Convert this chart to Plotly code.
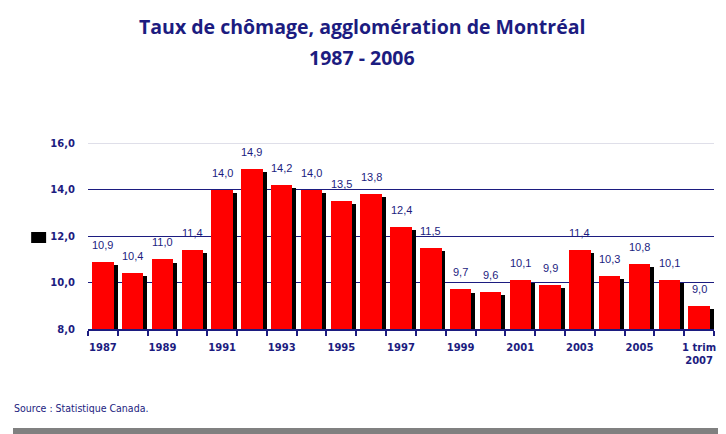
import plotly.graph_objects as go

categories = ["1987", "1988", "1989", "1990", "1991", "1992", "1993", "1994", "1995", "1996",
              "1997", "1998", "1999", "2000", "2001", "2002", "2003", "2004", "2005", "2006",
              "1 trim<br>2007"]
rates = [10.9, 10.4, 11.0, 11.4, 14.0, 14.9, 14.2, 14.0, 13.5, 13.8,
         12.4, 11.5, 9.7, 9.6, 10.1, 9.9, 11.4, 10.3, 10.8, 10.1, 9.0]
label_every = 2
y_ticks = [8, 10, 12, 14, 16]

NAVY = "#1c1c80"
idx = list(range(len(categories)))
shadow_drop = 0.14
bw = 0.72

fig = go.Figure()
fig.add_trace(go.Bar(x=idx, y=[v - shadow_drop for v in rates], width=bw, offset=-bw / 2 + 0.13,
                     marker=dict(color="black", line=dict(width=0)), hoverinfo="skip"))
fig.add_trace(go.Bar(x=idx, y=rates, width=bw, offset=-bw / 2,
                     marker=dict(color="#ff0000", line=dict(width=0))))

for i, v in zip(idx, rates):
    fig.add_annotation(x=i, y=v, text=f"{v:.1f}".replace(".", ","), showarrow=False,
                       yanchor="bottom", yshift=9,
                       font=dict(family="Liberation Sans", size=11, color=NAVY))

tickvals = [i for i in idx if i % label_every == 0]
ticktext = [categories[i] for i in tickvals]

# page body has an 8px margin; figure is sized to fit the remaining window
fig.update_layout(
    width=718, height=426,
    margin=dict(l=80, r=10, t=135, b=105),
    paper_bgcolor="white", plot_bgcolor="white",
    barmode="overlay", showlegend=False, bargap=0,
    separators=", ",
    xaxis=dict(range=[-0.5, len(categories) - 0.5], tickmode="array", tickvals=tickvals,
               ticktext=ticktext, ticks="outside", ticklen=8, tickcolor="rgba(0,0,0,0)",
               showgrid=False, zeroline=False, showline=True, linecolor=NAVY, linewidth=1.5,
               tickfont=dict(family="DejaVu Sans", size=10, color=NAVY, weight="bold"),
               minor=dict(tickmode="array", tickvals=[i - 0.5 for i in idx] + [len(idx) - 0.5],
                          ticks="outside", ticklen=5, tickcolor=NAVY, tickwidth=1.5, showgrid=False)),
    yaxis=dict(range=[8, 16], tickmode="array", tickvals=y_ticks, tickformat=".1f",
               showgrid=True, gridcolor=NAVY, gridwidth=1, zeroline=False, showline=False,
               ticks="outside", ticklen=10, tickcolor="rgba(0,0,0,0)",
               tickfont=dict(family="DejaVu Sans", size=10, color=NAVY, weight="bold")),
)

# light top gridline
fig.add_shape(type="line", xref="paper", yref="y", x0=0, x1=1, y0=16, y1=16,
              line=dict(color="#d4d4e2", width=1.5), layer="above")
# legend-like black square
fig.add_shape(type="rect", xref="paper", yref="paper", x0=-0.0908, x1=-0.0669, y0=0.4624, y1=0.5215,
              fillcolor="black", line=dict(width=0))
# bottom gray bar
fig.add_shape(type="rect", xref="paper", yref="paper", x0=-0.1198, x1=1.02, y0=-0.565, y1=-0.532,
              fillcolor="#808080", line=dict(width=0))

fig.add_annotation(xref="paper", yref="paper", x=0.438, y=1.624, yanchor="middle",
                   text="<b>Taux de chômage, agglomération de Montréal</b>", showarrow=False,
                   font=dict(family="Open Sans", size=19.5, color=NAVY))
fig.add_annotation(xref="paper", yref="paper", x=0.438, y=1.457, yanchor="middle",
                   text="<b>1987 - 2006</b>", showarrow=False,
                   font=dict(family="Open Sans", size=19.5, color=NAVY))
fig.add_annotation(xref="paper", yref="paper", x=-0.121, y=-0.424, xanchor="left", yanchor="middle",
                   text="Source : Statistique Canada.", showarrow=False,
                   font=dict(family="DejaVu Sans Condensed", size=10.5, color=NAVY))

fig.write_html("out.html")
